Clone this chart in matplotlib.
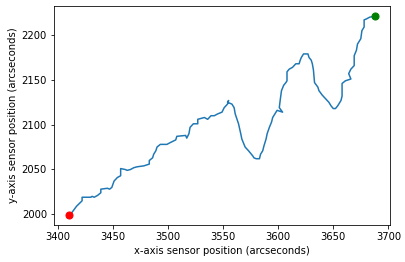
import matplotlib
matplotlib.use("Agg")
import matplotlib.pyplot as plt

x_pos = [3411, 3414, 3417, 3422, 3422, 3430, 3431, 3433, 3436, 3439,
         3439, 3445, 3447, 3449, 3451, 3454, 3457, 3457, 3461, 3463,
         3466, 3469, 3472, 3478, 3483, 3483, 3486, 3487, 3489, 3490,
         3493, 3499, 3502, 3507, 3508, 3516, 3517, 3519, 3520, 3523,
         3527, 3527, 3533, 3536, 3539, 3542, 3545, 3549, 3551, 3554,
         3555, 3554, 3558, 3560, 3561, 3564, 3566, 3567, 3569, 3570,
         3573, 3577, 3578, 3580, 3583, 3584, 3586, 3587, 3589, 3590,
         3592, 3594, 3595, 3598, 3599, 3604, 3601, 3602, 3603, 3605,
         3607, 3608, 3608, 3610, 3613, 3616, 3619, 3620, 3621, 3623,
         3627, 3628, 3630, 3631, 3632, 3633, 3636, 3637, 3640, 3643,
         3646, 3648, 3650, 3652, 3654, 3657, 3658, 3658, 3661, 3666,
         3664, 3666, 3669, 3669, 3671, 3672, 3675, 3676, 3678, 3678,
         3680, 3683, 3687]
y_pos = [1999, 2004, 2009, 2015, 2019, 2019, 2020, 2019, 2021, 2024,
         2028, 2029, 2028, 2030, 2037, 2041, 2043, 2051, 2050, 2049,
         2050, 2052, 2053, 2054, 2056, 2060, 2063, 2067, 2071, 2075,
         2078, 2078, 2080, 2083, 2087, 2088, 2085, 2090, 2097, 2101,
         2101, 2106, 2108, 2106, 2110, 2110, 2112, 2114, 2119, 2123,
         2127, 2125, 2123, 2119, 2112, 2101, 2090, 2084, 2078, 2075,
         2071, 2065, 2063, 2062, 2062, 2067, 2071, 2076, 2084, 2090,
         2097, 2103, 2108, 2114, 2116, 2114, 2119, 2129, 2138, 2144,
         2147, 2149, 2159, 2162, 2164, 2168, 2168, 2172, 2175, 2179,
         2179, 2175, 2172, 2168, 2161, 2147, 2142, 2138, 2133, 2129,
         2125, 2121, 2118, 2118, 2121, 2127, 2132, 2146, 2149, 2151,
         2157, 2162, 2166, 2177, 2183, 2190, 2196, 2205, 2209, 2217,
         2218, 2220, 2221]

start_pt = (3410, 1999)
end_pt = (3688, 2221)

fig = plt.figure(figsize=(405 / 72, 262 / 72), dpi=72)
ax = fig.add_axes([54 / 405, 1 - 225 / 262, (390 - 54) / 405, (225 - 6) / 262])
ax.plot(x_pos, y_pos, color="tab:blue", linewidth=1.5)
ax.scatter([start_pt[0]], [start_pt[1]], color="red", s=50, zorder=3)
ax.scatter([end_pt[0]], [end_pt[1]], color="green", s=50, zorder=3)
ax.set_xlim(3396.5, 3701.5)
ax.set_ylim(1988, 2232.5)
ax.set_xticks([3400, 3450, 3500, 3550, 3600, 3650, 3700])
ax.set_yticks([2000, 2050, 2100, 2150, 2200])
ax.set_xlabel("x-axis sensor position (arcseconds)")
ax.set_ylabel("y-axis sensor position (arcseconds)")
fig.savefig("out.png", dpi=72)
